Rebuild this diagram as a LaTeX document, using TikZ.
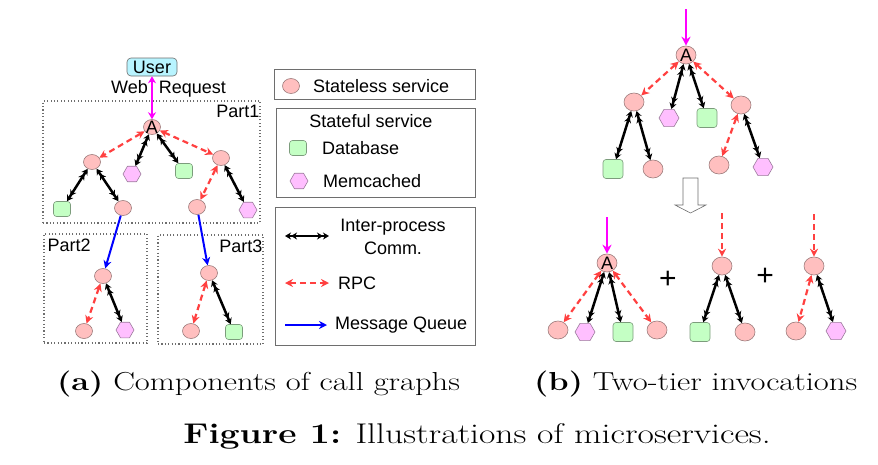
\documentclass[tikz,border=0pt]{standalone}
\usepackage{fontspec}
\setsansfont{Liberation Sans}
\newfontfamily\capfont[FakeStretch=1.25]{Latin Modern Roman}
\usepackage{xcolor}
\definecolor{svcfill}{HTML}{FFBFBF}
\definecolor{svcline}{HTML}{9C7C7C}
\definecolor{dbfill}{HTML}{C4FFC4}
\definecolor{dbline}{HTML}{7C9C7C}
\definecolor{mcfill}{HTML}{FFBFFF}
\definecolor{mcline}{HTML}{9C7C9C}
\definecolor{userfill}{HTML}{B8F4FF}
\definecolor{rpcred}{HTML}{FF4040}
\definecolor{mqblue}{HTML}{0000FF}
\definecolor{webmag}{HTML}{FF00FF}
\definecolor{boxgray}{HTML}{6E6E6E}
\usetikzlibrary{shapes.geometric, arrows.meta, positioning}

\begin{document}
\begin{tikzpicture}[
    x=1pt, y=-1pt,
    font=\sffamily\fontsize{18}{21}\selectfont,
    svc/.style={ellipse, draw=svcline, fill=svcfill, line width=0.6pt, minimum width=17pt, minimum height=15pt, inner sep=0pt},
    db/.style={rectangle, rounded corners=3pt, draw=dbline, fill=dbfill, line width=0.6pt, minimum width=17pt, minimum height=15pt, inner sep=0pt},
    mc/.style={regular polygon, regular polygon sides=6, draw=mcline, fill=mcfill, line width=0.6pt, minimum size=18pt, inner sep=0pt},
    big/.style={minimum width=20pt, minimum height=18pt},
    userbox/.style={rectangle, rounded corners=4pt, draw=boxgray, fill=userfill, line width=0.6pt, minimum width=50pt, minimum height=18pt, inner sep=2pt},
    partbox/.style={draw=boxgray, line width=1.1pt, dash pattern=on 1.1pt off 2.3pt, inner sep=0pt},
    legbox/.style={draw=boxgray, line width=0.7pt, inner sep=0pt},
    ipc/.style={draw=black, line width=2.5pt, {Stealth[length=6pt,width=7pt] Stealth[length=6pt,width=7pt]}-{Stealth[length=6pt,width=7pt] Stealth[length=6pt,width=7pt]}},
    rpc/.style={draw=rpcred, line width=2.2pt, dash pattern=on 6pt off 4pt, {Stealth[length=8pt,width=8pt]}-{Stealth[length=8pt,width=8pt]}},
    rpcin/.style={draw=rpcred, line width=2.2pt, dash pattern=on 6pt off 4pt, -{Stealth[length=8pt,width=8pt]}},
    mq/.style={draw=mqblue, line width=2pt, -{Stealth[length=8pt,width=8pt]}},
    web/.style={draw=webmag, line width=2.2pt, {Stealth[length=7pt,width=8pt]}-{Stealth[length=7pt,width=8pt]}},
    webin/.style={draw=webmag, line width=2.4pt, -{Stealth[length=9pt,width=9pt]}},
    captxt/.style={font=\capfont\fontsize{26}{30}\selectfont, inner sep=0pt},
]
\useasboundingbox (0,0) rectangle (878,464);

% (a) call graph parts
\node[partbox, minimum width=217pt, minimum height=122pt] (part1) at (151.5,162) {};
\node[partbox, minimum width=103pt, minimum height=109pt] (part2) at (95.5,288.5) {};
\node[partbox, minimum width=105pt, minimum height=109pt] (part3) at (210.5,289.5) {};
\node[anchor=north east, inner xsep=1pt, inner ysep=4pt] (part1lbl) at (part1.north east) {Part1};
\node[anchor=north west, inner xsep=4pt, inner ysep=5pt] (part2lbl) at (part2.north west) {Part2};
\node[anchor=north east, inner xsep=1pt, inner ysep=5pt] (part3lbl) at (part3.north east) {Part3};

\node[userbox] (user) at (152,67) {User};
\node[inner sep=0pt] (webreq) at (168.5,89) {Web\hspace{11pt}Request};

\node[svc, label={[inner sep=0pt]center:A}] (a1) at (152,127) {};
\node[svc] (aL) at (92,162) {};
\node[mc] (amc) at (132,174) {};
\node[db] (adb) at (184,171) {};
\node[svc] (aR) at (221,158) {};
\node[db] (aLdb) at (62,209) {};
\node[svc] (aLL) at (123,208) {};
\node[svc] (aRL) at (197,207) {};
\node[mc] (aRmc) at (248,210) {};
\node[svc] (p2top) at (103,276) {};
\node[svc] (p2svc) at (84,331) {};
\node[mc] (p2mc) at (125,330) {};
\node[svc] (p3top) at (209,273) {};
\node[svc] (p3svc) at (191,331) {};
\node[db] (p3db) at (234,332) {};

\draw[web] (user.south) -- (a1.north);
\draw[rpc] (a1) -- (aL);
\draw[ipc] (a1) -- (amc);
\draw[ipc] (a1) -- (adb);
\draw[rpc] (a1) -- (aR);
\draw[ipc] (aL) -- (aLdb);
\draw[ipc] (aL) -- (aLL);
\draw[rpc] (aR) -- (aRL);
\draw[ipc] (aR) -- (aRmc);
\draw[mq] (aLL) -- (p2top);
\draw[mq] (aRL) -- (p3top);
\draw[rpc] (p2top) -- (p2svc);
\draw[ipc] (p2top) -- (p2mc);
\draw[rpc] (p3top) -- (p3svc);
\draw[ipc] (p3top) -- (p3db);

% legend
\node[legbox, minimum width=201pt, minimum height=30pt] (leg1) at (374.5,84) {};
\node[legbox, minimum width=199pt, minimum height=89pt] (leg2) at (375.5,152.5) {};
\node[legbox, minimum width=200pt, minimum height=138pt] (leg3) at (375,276) {};
\node[svc] (legsvc) at (291,86) {};
\node[anchor=west, inner sep=0pt] (legsvctxt) at (313,86) {Stateless service};
\node[inner sep=0pt] (legstate) at (371,121) {Stateful service};
\node[db] (legdb) at (298,148) {};
\node[anchor=west, inner sep=0pt] (legdbtxt) at (322,148) {Database};
\node[mc] (legmc) at (299,181) {};
\node[anchor=west, inner sep=0pt] (legmctxt) at (323,181) {Memcached};
\coordinate (ipcA) at (285,236);
\coordinate (ipcB) at (329,236);
\node[align=center, inner sep=0pt, font=\sffamily\fontsize{18}{23}\selectfont] (legipc) at (393,237) {Inter-process\\Comm.};
\coordinate (rpcA) at (285,283);
\coordinate (rpcB) at (329,283);
\node[anchor=west, inner sep=0pt] (legrpc) at (338,283) {RPC};
\coordinate (mqA) at (285,325);
\coordinate (mqB) at (327,325);
\node[anchor=west, inner sep=0pt] (legmq) at (335,325) {Message Queue};
\draw[ipc] (ipcA) -- (ipcB);
\draw[rpc] (rpcA) -- (rpcB);
\draw[mq] (mqA) -- (mqB);

% (b) whole graph
\coordinate (bin) at (686,9);
\node[svc, big, label={[inner sep=0pt]center:A}] (bA) at (686,55) {};
\node[svc, big] (bL) at (634,102) {};
\node[mc, minimum size=20pt] (bmc) at (669,118) {};
\node[db, big, minimum height=19pt] (bdb) at (707,118) {};
\node[svc, big] (bR) at (741,105) {};
\node[db, big, minimum height=19pt] (bLdb) at (613,169) {};
\node[svc, big] (bLsvc) at (653,169) {};
\node[svc, big] (bRsvc) at (719,165) {};
\node[mc, minimum size=20pt] (bRmc) at (763,167) {};
\draw[webin] (bin) -- (bA.north);
\draw[rpc] (bA) -- (bL);
\draw[ipc] (bA) -- (bmc);
\draw[ipc] (bA) -- (bdb);
\draw[rpc] (bA) -- (bR);
\draw[ipc] (bL) -- (bLdb);
\draw[ipc] (bL) -- (bLsvc);
\draw[rpc] (bR) -- (bRsvc);
\draw[ipc] (bR) -- (bRmc);

\draw[draw=boxgray, fill=white, line width=0.6pt] (683,178) -- (698,178) -- (698,205) -- (706,205) -- (690.5,213) -- (675,205) -- (683,205) -- cycle;

% (b) two tiers
\coordinate (g1in) at (607,217);
\node[svc, big, label={[inner sep=0pt]center:A}] (g1A) at (607,263) {};
\node[svc, big] (g1svcL) at (558,330) {};
\node[mc, minimum size=20pt] (g1mc) at (585,332) {};
\node[db, big, minimum height=19pt] (g1db) at (623,332) {};
\node[svc, big] (g1svcR) at (657,330) {};
\draw[webin] (g1in) -- (g1A.north);
\draw[rpc] (g1A) -- (g1svcL);
\draw[ipc] (g1A) -- (g1mc);
\draw[ipc] (g1A) -- (g1db);
\draw[rpc] (g1A) -- (g1svcR);

\node[font=\sffamily\fontsize{30}{30}\selectfont] (plus1) at (668,280) {+};

\coordinate (g2in) at (722,213);
\node[svc, big] (g2top) at (722,266) {};
\node[db, big, minimum height=19pt] (g2db) at (700,332) {};
\node[svc, big] (g2svc) at (745,332) {};
\draw[rpcin] (g2in) -- (g2top.north);
\draw[ipc] (g2top) -- (g2db);
\draw[ipc] (g2top) -- (g2svc);

\node[font=\sffamily\fontsize{30}{30}\selectfont] (plus2) at (765,277) {+};

\coordinate (g3in) at (814,214);
\node[svc, big] (g3top) at (814,266) {};
\node[svc, big] (g3svc) at (796,331) {};
\node[mc, minimum size=20pt] (g3mc) at (836,331) {};
\draw[rpcin] (g3in) -- (g3top.north);
\draw[rpc] (g3top) -- (g3svc);
\draw[ipc] (g3top) -- (g3mc);

% captions
\node[captxt, anchor=base west] (capa) at (57,390) {\textbf{(a)} Components of call graphs};
\node[captxt, anchor=base west] (capb) at (534,390) {\textbf{(b)} Two-tier invocations};
\node[captxt, anchor=base, font=\capfont\fontsize{28.5}{32}\selectfont] (capfig) at (477,443) {\textbf{Figure 1:} Illustrations of microservices.};
\end{tikzpicture}
\end{document}
